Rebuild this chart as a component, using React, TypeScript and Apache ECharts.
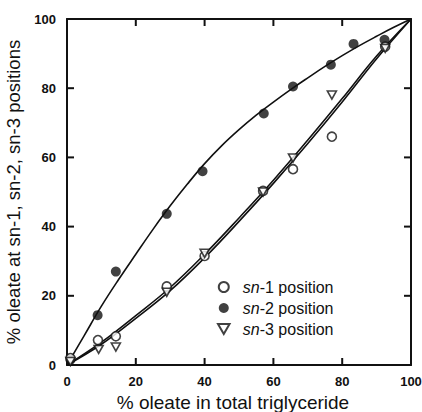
import React, { useEffect, useRef } from "react";
import * as echarts from "echarts";

// x: % oleate in total triglyceride, y: % oleate at position
const sn1Points: number[][] = [[1, 2], [9, 7.2], [14.2, 8.3], [29, 22.7], [40, 31.5], [57, 50.3], [65.7, 56.6], [77, 66], [92.5, 92]];
const sn2Points: number[][] = [[1, 1.5], [8.9, 14.4], [14.2, 27], [29, 43.7], [39.4, 56], [57.2, 72.7], [65.7, 80.5], [76.7, 86.8], [83.3, 92.8], [92.3, 94]];
const sn3Points: number[][] = [[1, 1], [9.2, 4.5], [14.2, 5.2], [29, 21], [40, 32.3], [57, 50], [65.7, 59.8], [77, 78], [92.5, 91.5]];

// fitted curves
const sn2FitX = [0, 5, 10, 15, 20, 25, 30, 35, 40, 45, 50, 55, 60, 65, 70, 75, 80, 85, 90, 95, 100];
const sn2FitY = [0, 8.5, 17, 24.7, 32, 39.2, 46, 52.3, 58.2, 63.4, 68, 72.2, 76, 79.6, 83, 86.3, 89.4, 92.3, 95, 97.6, 100];
const lowFitX = [0, 10, 20, 30, 40, 50, 60, 70, 80, 90, 100];
const sn1FitY = [0, 6, 13.5, 21.5, 31, 41.5, 52.5, 64, 76, 88.5, 100];
const sn3FitY = [0, 6.6, 14.3, 22.4, 32, 42.5, 53.4, 65, 77, 89.3, 100];

const seriesNames = ["sn-1 position", "sn-2 position", "sn-3 position"];
const AXIS_MIN = 0;
const AXIS_MAX = 100;
const AXIS_STEP = 20;
const innerTickValues = [20, 40, 60, 80];

const INK = "#111";
const FONT = "Liberation Sans, Arial, sans-serif";
const TICK_LEN = 7;

const zip = (xs: number[], ys: number[]) => xs.map((x, i) => [x, ys[i]]);

export default function App() {
  const ref = useRef<HTMLDivElement>(null);
  useEffect(() => {
    document.body.style.margin = "0";
    const chart = echarts.init(ref.current!, null, { renderer: "svg" });
    const label = { color: INK, fontFamily: FONT, fontWeight: "bold" as const, fontSize: 13 };
    const axisBase = () => ({
      type: "value" as const,
      min: AXIS_MIN,
      max: AXIS_MAX,
      interval: AXIS_STEP,
      axisLine: { show: true, onZero: false, lineStyle: { color: INK, width: 2 } },
      axisTick: { show: false },
      splitLine: { show: false },
    });
    const fitLine = (data: number[][]) => ({
      type: "line" as const,
      data,
      smooth: 0.4,
      showSymbol: false,
      symbol: "none",
      lineStyle: { color: INK, width: 1.6 },
      z: 2,
      silent: true,
    });
    chart.setOption({
      animation: false,
      backgroundColor: "#fff",
      grid: { left: 67, right: 11, top: 19, bottom: 47, containLabel: false, outerBoundsMode: "none" },
      xAxis: [
        {
          ...axisBase(), position: "bottom",
          axisLabel: { ...label, margin: 10 },
          name: "% oleate in total triglyceride",
          nameLocation: "middle", nameGap: 22,
          nameTextStyle: { color: INK, fontFamily: FONT, fontSize: 19, lineHeight: 20, padding: [0, 12, 0, 0] },
        },
        { ...axisBase(), position: "top", axisLabel: { show: false } },
      ],
      yAxis: [
        {
          ...axisBase(), position: "left",
          axisLabel: { ...label, margin: 11 },
          name: "% oleate at sn-1, sn-2, sn-3 positions",
          nameLocation: "middle", nameGap: 27,
          nameTextStyle: { color: INK, fontFamily: FONT, fontSize: 18.5 },
        },
        { ...axisBase(), position: "right", axisLabel: { show: false } },
      ],
      legend: {
        data: seriesNames,
        orient: "vertical",
        left: 212,
        top: 274,
        itemWidth: 28,
        itemHeight: 10,
        itemGap: 5,
        formatter: (name: string) => `{i|${name.slice(0, 2)}}{n|${name.slice(2)}}`,
        textStyle: {
          color: INK,
          fontFamily: FONT,
          fontSize: 16,
          lineHeight: 16,
          rich: {
            i: { fontStyle: "italic", fontSize: 16, fontFamily: FONT, color: INK, lineHeight: 16 },
            n: { fontSize: 16, fontFamily: FONT, color: INK, lineHeight: 16 },
          },
        },
      },
      series: [
        fitLine(zip(sn2FitX, sn2FitY)),
        fitLine(zip(lowFitX, sn1FitY)),
        fitLine(zip(lowFitX, sn3FitY)),
        {
          name: seriesNames[0], type: "scatter", data: sn1Points,
          symbol: "circle", symbolSize: 9,
          itemStyle: { color: "#fff", borderColor: INK, borderWidth: 1.6 }, z: 5,
        },
        {
          name: seriesNames[1], type: "scatter", data: sn2Points,
          symbol: "circle", symbolSize: 10,
          itemStyle: { color: INK, borderColor: INK, borderWidth: 0 }, z: 4,
        },
        {
          name: seriesNames[2], type: "scatter", data: sn3Points,
          symbol: "path://M0,0 L10,0 L5,8.66 Z", symbolSize: [9, 8],
          itemStyle: { color: "#fff", borderColor: INK, borderWidth: 1.6 }, z: 6,
        },
      ],
    });

    // inward tick marks on all four sides, positioned through the axes' own scales
    const toPx = (p: number[]) => chart.convertToPixel({ xAxisIndex: 0, yAxisIndex: 0 }, p) as number[];
    const tickLines: any[] = [];
    const addTick = (p: number[], dx: number, dy: number) => {
      const [x, y] = toPx(p);
      tickLines.push({
        type: "line",
        shape: { x1: x, y1: y, x2: x + dx, y2: y + dy },
        style: { stroke: INK, lineWidth: 2 },
        z: 10,
        silent: true,
      });
    };
    innerTickValues.forEach((v) => {
      addTick([v, AXIS_MIN], 0, -TICK_LEN);
      addTick([v, AXIS_MAX], 0, TICK_LEN);
      addTick([AXIS_MIN, v], TICK_LEN, 0);
      addTick([AXIS_MAX, v], -TICK_LEN, 0);
    });
    chart.setOption({ graphic: tickLines });

    return () => chart.dispose();
  }, []);
  return <div ref={ref} style={{ width: 422, height: 412 }} />;
}
